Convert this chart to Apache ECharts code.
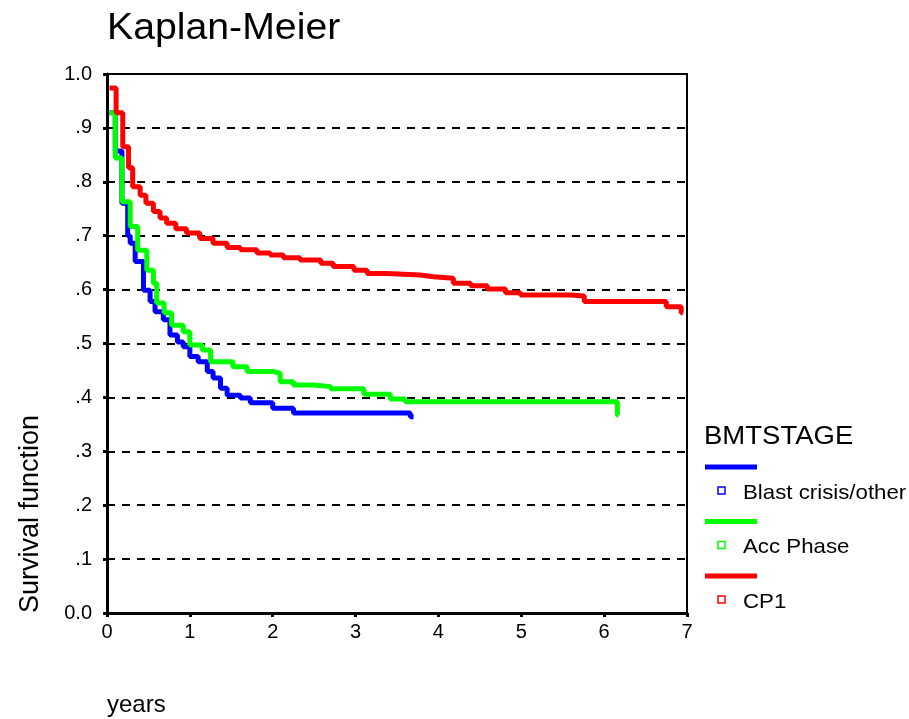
<!DOCTYPE html>
<html>
<head>
<meta charset="utf-8">
<title>Kaplan-Meier</title>
<script src="https://cdn.jsdelivr.net/npm/echarts@6/dist/echarts.min.js"></script>
<style>
  html, body { margin: 0; padding: 0; background: #fff; }
  #chart { width: 909px; height: 719px; }
</style>
</head>
<body>
<div id="chart"></div>
<script>
// Survival estimates per BMT stage: event times (years) and survival level after each step
const blastYears = [0.03, 0.10, 0.18, 0.25, 0.28, 0.34, 0.44, 0.52, 0.58, 0.68, 0.76, 0.85, 0.92, 1.00, 1.10, 1.21, 1.28, 1.37, 1.45, 1.61, 1.73, 2.00, 2.25, 3.66, 3.70];
const blastSurv  = [0.928, 0.857, 0.760, 0.700, 0.686, 0.652, 0.599, 0.578, 0.559, 0.544, 0.516, 0.503, 0.494, 0.476, 0.466, 0.448, 0.436, 0.417, 0.404, 0.399, 0.390, 0.380, 0.371, 0.364, 0.364];

const accYears = [0.03, 0.10, 0.18, 0.28, 0.37, 0.48, 0.56, 0.60, 0.69, 0.78, 0.92, 1.00, 1.15, 1.25, 1.52, 1.69, 2.00, 2.09, 2.25, 2.49, 2.70, 3.10, 3.42, 3.60, 6.16, 6.17];
const accSurv  = [0.928, 0.844, 0.763, 0.717, 0.673, 0.636, 0.612, 0.575, 0.557, 0.534, 0.522, 0.497, 0.488, 0.466, 0.457, 0.448, 0.445, 0.429, 0.423, 0.420, 0.416, 0.406, 0.397, 0.392, 0.367, 0.367];

const cp1Years = [0.03, 0.11, 0.19, 0.26, 0.31, 0.40, 0.47, 0.56, 0.64, 0.72, 0.83, 0.96, 1.12, 1.28, 1.45, 1.61, 1.81, 1.97, 2.13, 2.33, 2.58, 2.73, 2.98, 3.14, 3.38, 3.78, 3.94, 4.18, 4.39, 4.59, 4.81, 4.99, 5.60, 5.76, 6.75, 6.93, 6.95];
const cp1Surv  = [0.974, 0.928, 0.865, 0.826, 0.791, 0.775, 0.760, 0.745, 0.733, 0.723, 0.713, 0.705, 0.695, 0.686, 0.678, 0.674, 0.668, 0.664, 0.659, 0.655, 0.649, 0.643, 0.636, 0.630, 0.627, 0.624, 0.621, 0.612, 0.607, 0.601, 0.594, 0.590, 0.588, 0.578, 0.568, 0.557, 0.557];

const groupNames = ['Blast crisis/other', 'Acc Phase', 'CP1'];
const groupColors = ['#0000ff', '#00ff00', '#ff0000'];

const yTickLabels = ['0.0', '.1', '.2', '.3', '.4', '.5', '.6', '.7', '.8', '.9', '1.0'];
const xTickLabels = ['0', '1', '2', '3', '4', '5', '6', '7'];

const FONT = "'Liberation Sans', Arial, sans-serif";

function pairs(xs, ys) {
  return xs.map((x, i) => [x, ys[i]]);
}

const seriesData = [pairs(blastYears, blastSurv), pairs(accYears, accSurv), pairs(cp1Years, cp1Surv)];

const chart = echarts.init(document.getElementById('chart'), null, { renderer: 'canvas' });

// plain left-aligned text, slightly widened like the original output
function label(text, x, y, size, sx) {
  return {
    type: 'text',
    x: x, y: y,
    scaleX: sx || 1,
    style: { text: text, font: size + 'px ' + FONT, fill: '#000', align: 'left', verticalAlign: 'middle' }
  };
}

// legend block: colored bar, hollow square and group name
const legendGraphics = [];
const legendTop = 467;
const legendStep = 54.5;
groupNames.forEach((name, i) => {
  const y = legendTop + i * legendStep;
  legendGraphics.push({
    type: 'rect',
    shape: { x: 705, y: y - 2.5, width: 52, height: 5 },
    style: { fill: groupColors[i] }
  });
  legendGraphics.push({
    type: 'rect',
    shape: { x: 718, y: y + 20, width: 7, height: 7 },
    style: { fill: '#fff', stroke: groupColors[i], lineWidth: 1.5 }
  });
  legendGraphics.push(label(name, 743, y + 26, 21, 1.06));
});

const option = {
  backgroundColor: '#fff',
  animation: false,
  grid: {
    left: 107, right: 222, top: 74, bottom: 106,
    show: true,
    borderColor: '#000',
    borderWidth: 2,
    backgroundColor: 'transparent'
  },
  xAxis: {
    type: 'value',
    min: 0, max: 7, interval: 1,
    axisLine: { show: true, onZero: false, lineStyle: { color: '#000', width: 3 } },
    axisTick: { show: true, length: 4, lineStyle: { color: '#000', width: 3 } },
    axisLabel: {
      margin: 9,
      fontFamily: FONT, fontSize: 20, color: '#000',
      formatter: v => xTickLabels[Math.round(v)]
    },
    splitLine: { show: false }
  },
  yAxis: {
    type: 'value',
    min: 0, max: 1, interval: 0.1,
    axisLine: { show: true, lineStyle: { color: '#000', width: 3 } },
    axisTick: { show: true, length: 4, lineStyle: { color: '#000', width: 3 } },
    axisLabel: {
      margin: 15,
      fontFamily: FONT, fontSize: 20, color: '#000',
      formatter: v => yTickLabels[Math.round(v * 10)]
    },
    splitLine: { show: true, lineStyle: { color: '#000', width: 2, type: [8, 7] } }
  },
  series: seriesData.map((data, i) => ({
    name: groupNames[i],
    type: 'line',
    step: 'end',
    data: data,
    showSymbol: false,
    symbol: 'none',
    lineStyle: { color: groupColors[i], width: 5 },
    z: 3 + i
  })),
  graphic: [
    label('Kaplan-Meier', 107, 29, 37, 1.06),
    {
      type: 'text',
      x: 31, y: 613,
      rotation: Math.PI / 2,
      style: { text: 'Survival function', font: '27px ' + FONT, fill: '#000', align: 'left', verticalAlign: 'middle' }
    },
    label('years', 107, 705, 24, 1),
    label('BMTSTAGE', 704, 437, 25, 1.1)
  ].concat(legendGraphics)
};

chart.setOption(option);
</script>
</body>
</html>
